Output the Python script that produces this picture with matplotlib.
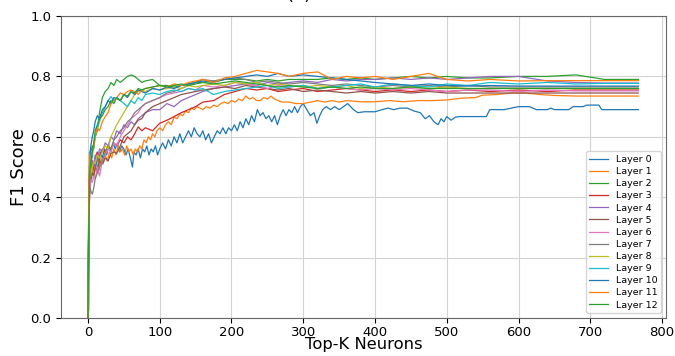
import numpy as np
import matplotlib.pyplot as plt

top_k = [0, 1, 2, 3, 4, 6, 8, 10, 13, 16, 20, 24, 28, 32, 36, 40, 45, 50, 55, 60,
         65, 70, 75, 80, 90, 100, 110, 120, 130, 140, 150, 160, 175, 190, 205, 220,
         235, 250, 265, 280, 300, 320, 340, 360, 380, 400, 425, 450, 475, 500, 530,
         560, 600, 640, 680, 720, 767]

# layer 0 and 1 stand apart from the bundle, so they were read more densely
top_k_0 = [0, 1, 2, 3, 4, 5, 7, 9, 11, 13, 15, 17, 20, 23, 26, 29, 32, 35, 38, 41, 44, 47, 50,
           53, 56, 59, 62, 64, 67, 70, 73, 76, 79, 82, 85, 88, 91, 94, 97, 100, 104, 108, 112,
           116, 120, 124, 128, 132, 136, 140, 144, 148, 152, 156, 160, 164, 168, 172, 176, 180,
           184, 188, 192, 196, 200, 204, 208, 212, 216, 220, 224, 228, 232, 236, 240, 244, 248,
           252, 256, 260, 264, 268, 272, 276, 280, 284, 288, 292, 296, 300, 305, 310, 315, 319,
           323, 327, 332, 338, 344, 350, 356, 362, 366, 370, 376, 385, 400, 410, 418, 426, 435,
           445, 455, 463, 470, 476, 482, 488, 492, 496, 500, 506, 512, 518, 540, 555, 560, 580,
           600, 615, 625, 640, 645, 650, 670, 676, 690, 695, 712, 716, 767]
layer_0 = [0.00, 0.32, 0.45, 0.55, 0.50, 0.53, 0.48, 0.52, 0.50, 0.54, 0.51, 0.55, 0.53, 0.56,
           0.54, 0.57, 0.55, 0.58, 0.56, 0.58, 0.55, 0.57, 0.56, 0.54, 0.56, 0.53, 0.50, 0.55,
           0.54, 0.56, 0.53, 0.56, 0.55, 0.57, 0.54, 0.56, 0.55, 0.57, 0.54, 0.56, 0.58, 0.56,
           0.59, 0.57, 0.60, 0.58, 0.61, 0.58, 0.60, 0.62, 0.60, 0.63, 0.61, 0.60, 0.62, 0.59,
           0.61, 0.58, 0.60, 0.62, 0.61, 0.63, 0.61, 0.63, 0.62, 0.64, 0.62, 0.65, 0.63, 0.66,
           0.64, 0.67, 0.65, 0.69, 0.67, 0.68, 0.66, 0.67, 0.65, 0.67, 0.64, 0.67, 0.69, 0.67,
           0.69, 0.68, 0.70, 0.68, 0.70, 0.71, 0.69, 0.67, 0.68, 0.645, 0.67, 0.69, 0.70, 0.69,
           0.70, 0.69, 0.70, 0.71, 0.70, 0.69, 0.68, 0.683, 0.683, 0.69, 0.695, 0.69, 0.695,
           0.695, 0.685, 0.68, 0.66, 0.67, 0.65, 0.64, 0.66, 0.65, 0.667, 0.655, 0.665, 0.667,
           0.667, 0.667, 0.69, 0.69, 0.70, 0.70, 0.69, 0.69, 0.695, 0.69, 0.69, 0.70, 0.70,
           0.705, 0.705, 0.69, 0.69]

top_k_1 = [0, 1, 2, 3, 4, 6, 8, 10, 12, 14, 16, 18, 21, 24, 27, 30, 33, 36, 39, 42, 45, 48, 51,
           54, 57, 60, 63, 66, 69, 72, 75, 78, 81, 84, 87, 90, 93, 96, 100, 104, 108, 112, 116,
           120, 124, 128, 132, 136, 140, 144, 148, 152, 156, 160, 165, 170, 175, 180, 185, 190,
           195, 200, 205, 210, 215, 220, 225, 230, 235, 240, 245, 250, 255, 260, 265, 270, 280,
           290, 300, 310, 320, 330, 340, 350, 360, 380, 400, 420, 440, 460, 480, 500, 520, 540,
           550, 570, 590, 610, 630, 650, 680, 767]
layer_1 = [0.00, 0.28, 0.45, 0.55, 0.47, 0.50, 0.47, 0.50, 0.48, 0.52, 0.49, 0.53, 0.51, 0.54,
           0.52, 0.55, 0.53, 0.56, 0.54, 0.57, 0.55, 0.56, 0.54, 0.57, 0.55, 0.56, 0.54, 0.56,
           0.55, 0.57, 0.56, 0.59, 0.58, 0.60, 0.59, 0.61, 0.60, 0.62, 0.63, 0.62, 0.64, 0.65,
           0.64, 0.665, 0.66, 0.675, 0.67, 0.685, 0.68, 0.695, 0.69, 0.70, 0.695, 0.69, 0.70,
           0.695, 0.705, 0.70, 0.71, 0.715, 0.71, 0.72, 0.715, 0.725, 0.72, 0.735, 0.725, 0.73,
           0.72, 0.72, 0.73, 0.725, 0.735, 0.725, 0.72, 0.715, 0.715, 0.71, 0.71, 0.715, 0.72,
           0.715, 0.72, 0.715, 0.72, 0.716, 0.716, 0.72, 0.716, 0.72, 0.72, 0.722, 0.728, 0.73,
           0.738, 0.74, 0.745, 0.745, 0.74, 0.737, 0.735, 0.735]

layer_2 = [0.00, 0.36, 0.48, 0.53, 0.55, 0.57, 0.56, 0.60, 0.62, 0.68, 0.73, 0.75, 0.76, 0.78, 0.77,
           0.79, 0.78, 0.79, 0.80, 0.805, 0.80, 0.79, 0.78, 0.785, 0.79, 0.77, 0.77, 0.765, 0.77, 0.775,
           0.78, 0.78, 0.785, 0.79, 0.79, 0.79, 0.785, 0.79, 0.785, 0.79, 0.79, 0.79, 0.795, 0.79, 0.795,
           0.79, 0.795, 0.80, 0.795, 0.80, 0.795, 0.795, 0.80, 0.80, 0.805, 0.79, 0.79]
layer_3 = [0.00, 0.03, 0.40, 0.48, 0.50, 0.52, 0.50, 0.53, 0.55, 0.53, 0.56, 0.55, 0.57, 0.56, 0.58,
           0.57, 0.59, 0.58, 0.60, 0.59, 0.61, 0.633, 0.62, 0.63, 0.62, 0.645, 0.655, 0.667, 0.68, 0.69,
           0.70, 0.715, 0.72, 0.74, 0.75, 0.76, 0.755, 0.76, 0.75, 0.755, 0.76, 0.75, 0.755, 0.76, 0.755,
           0.75, 0.755, 0.75, 0.755, 0.75, 0.755, 0.75, 0.755, 0.75, 0.755, 0.755, 0.755]
layer_4 = [0.00, 0.30, 0.44, 0.48, 0.50, 0.52, 0.50, 0.54, 0.52, 0.56, 0.55, 0.58, 0.57, 0.60, 0.59,
           0.62, 0.61, 0.64, 0.63, 0.65, 0.64, 0.66, 0.67, 0.68, 0.69, 0.69, 0.71, 0.70, 0.72, 0.73,
           0.74, 0.75, 0.76, 0.765, 0.77, 0.775, 0.77, 0.78, 0.775, 0.78, 0.785, 0.78, 0.79, 0.785, 0.79,
           0.79, 0.795, 0.79, 0.795, 0.79, 0.795, 0.80, 0.80, 0.785, 0.78, 0.778, 0.778]
layer_5 = [0.00, 0.28, 0.42, 0.46, 0.45, 0.48, 0.47, 0.50, 0.49, 0.52, 0.51, 0.53, 0.52, 0.545, 0.55,
           0.545, 0.57, 0.60, 0.61, 0.62, 0.64, 0.655, 0.66, 0.68, 0.70, 0.71, 0.72, 0.73, 0.74, 0.745,
           0.75, 0.755, 0.76, 0.765, 0.76, 0.77, 0.765, 0.76, 0.755, 0.76, 0.75, 0.755, 0.75, 0.745, 0.75,
           0.745, 0.75, 0.745, 0.75, 0.745, 0.745, 0.745, 0.745, 0.745, 0.745, 0.745, 0.745]
layer_6 = [0.00, 0.25, 0.40, 0.44, 0.46, 0.45, 0.47, 0.46, 0.50, 0.47, 0.52, 0.54, 0.56, 0.55, 0.58,
           0.57, 0.60, 0.62, 0.64, 0.66, 0.67, 0.68, 0.70, 0.71, 0.72, 0.73, 0.74, 0.745, 0.75, 0.76,
           0.755, 0.77, 0.765, 0.77, 0.78, 0.775, 0.77, 0.76, 0.77, 0.765, 0.77, 0.76, 0.765, 0.76, 0.755,
           0.76, 0.755, 0.76, 0.755, 0.75, 0.755, 0.755, 0.75, 0.755, 0.752, 0.752, 0.752]
layer_7 = [0.00, 0.22, 0.38, 0.43, 0.42, 0.41, 0.43, 0.46, 0.48, 0.50, 0.52, 0.55, 0.57, 0.56, 0.59,
           0.60, 0.62, 0.63, 0.65, 0.66, 0.68, 0.69, 0.70, 0.71, 0.72, 0.73, 0.745, 0.75, 0.76, 0.77,
           0.78, 0.79, 0.785, 0.79, 0.795, 0.79, 0.78, 0.785, 0.78, 0.775, 0.78, 0.775, 0.77, 0.775, 0.77,
           0.765, 0.77, 0.765, 0.77, 0.765, 0.77, 0.765, 0.765, 0.765, 0.765, 0.765, 0.765]
layer_8 = [0.00, 0.30, 0.45, 0.50, 0.48, 0.50, 0.52, 0.51, 0.54, 0.53, 0.55, 0.57, 0.56, 0.60, 0.62,
           0.64, 0.66, 0.68, 0.70, 0.72, 0.74, 0.75, 0.755, 0.75, 0.76, 0.755, 0.76, 0.765, 0.76, 0.77,
           0.765, 0.77, 0.775, 0.77, 0.78, 0.775, 0.78, 0.77, 0.775, 0.77, 0.765, 0.77, 0.765, 0.77, 0.76,
           0.765, 0.76, 0.765, 0.76, 0.765, 0.76, 0.76, 0.76, 0.76, 0.76, 0.76, 0.76]
layer_9 = [0.00, 0.33, 0.47, 0.52, 0.55, 0.53, 0.58, 0.60, 0.63, 0.65, 0.68, 0.70, 0.72, 0.733, 0.72,
           0.73, 0.72, 0.71, 0.70, 0.72, 0.71, 0.73, 0.72, 0.74, 0.745, 0.74, 0.75, 0.755, 0.75, 0.76,
           0.755, 0.76, 0.74, 0.75, 0.755, 0.76, 0.765, 0.77, 0.76, 0.765, 0.77, 0.76, 0.765, 0.77, 0.775,
           0.765, 0.775, 0.77, 0.765, 0.775, 0.77, 0.78, 0.775, 0.78, 0.775, 0.777, 0.777]
layer_10 = [0.00, 0.35, 0.50, 0.55, 0.57, 0.60, 0.62, 0.65, 0.67, 0.66, 0.69, 0.70, 0.72, 0.71, 0.73,
            0.727, 0.72, 0.74, 0.73, 0.75, 0.74, 0.755, 0.75, 0.745, 0.76, 0.755, 0.765, 0.76, 0.77, 0.775,
            0.78, 0.785, 0.78, 0.79, 0.795, 0.80, 0.805, 0.80, 0.81, 0.80, 0.805, 0.80, 0.795, 0.79, 0.785,
            0.78, 0.775, 0.77, 0.775, 0.77, 0.768, 0.77, 0.768, 0.768, 0.768, 0.768, 0.768]
layer_11 = [0.00, 0.40, 0.545, 0.50, 0.53, 0.55, 0.57, 0.60, 0.63, 0.62, 0.65, 0.667, 0.68, 0.71, 0.72,
            0.73, 0.745, 0.74, 0.75, 0.755, 0.75, 0.74, 0.755, 0.76, 0.765, 0.77, 0.765, 0.775, 0.77, 0.78,
            0.785, 0.79, 0.78, 0.795, 0.80, 0.81, 0.82, 0.815, 0.81, 0.80, 0.81, 0.815, 0.79, 0.80, 0.795,
            0.80, 0.79, 0.80, 0.81, 0.79, 0.785, 0.79, 0.785, 0.786, 0.786, 0.786, 0.786]
layer_12 = [0.00, 0.30, 0.44, 0.50, 0.52, 0.55, 0.58, 0.62, 0.64, 0.66, 0.67, 0.69, 0.70, 0.72, 0.71,
            0.73, 0.72, 0.74, 0.735, 0.75, 0.745, 0.76, 0.755, 0.76, 0.765, 0.77, 0.765, 0.77, 0.775, 0.77,
            0.775, 0.78, 0.775, 0.78, 0.785, 0.78, 0.775, 0.77, 0.765, 0.77, 0.765, 0.76, 0.765, 0.76, 0.765,
            0.76, 0.76, 0.765, 0.76, 0.76, 0.76, 0.76, 0.76, 0.76, 0.76, 0.76, 0.76]

xs = [top_k_0, top_k_1] + [top_k] * 11
layers = [layer_0, layer_1, layer_2, layer_3, layer_4, layer_5, layer_6,
          layer_7, layer_8, layer_9, layer_10, layer_11, layer_12]

fig = plt.figure(figsize=(6.75, 3.56), dpi=100)
ax = fig.add_axes([0.0904, 0.1067, 0.8963, 0.8483])

# one line per layer, default colour cycle
for i, (k, f1) in enumerate(zip(xs, layers)):
    ax.plot(k, f1, linewidth=0.9, label=f'Layer {i}')

ax.set_xlim(-37.6, 805.6)
ax.set_ylim(0, 1.0)
ax.set_xticks(np.arange(0, 801, 100))
ax.set_yticks(np.arange(0, 1.01, 0.2))
ax.tick_params(labelsize=9.5)
ax.tick_params(axis='x', pad=2)
ax.grid(True, color='#d3d3d3', linewidth=0.8)
ax.set_axisbelow(True)
for s in ax.spines.values():
    s.set_color('#666666')

ax.set_xlabel('Top-K Neurons', fontsize=11.8)
ax.xaxis.set_label_coords(0.5, -0.064)
ax.set_ylabel('F1 Score', fontsize=13, labelpad=2)

# title sits mostly above the top edge, as in the reference
fig.text(0.443, 1.015, '(a)', fontsize=13, ha='center', va='center')

ax.legend(loc='lower right', fontsize=6.8, labelspacing=0.33, handlelength=2.0,
          borderpad=0.4, framealpha=0.8)

plt.savefig('out.png', dpi=100)
